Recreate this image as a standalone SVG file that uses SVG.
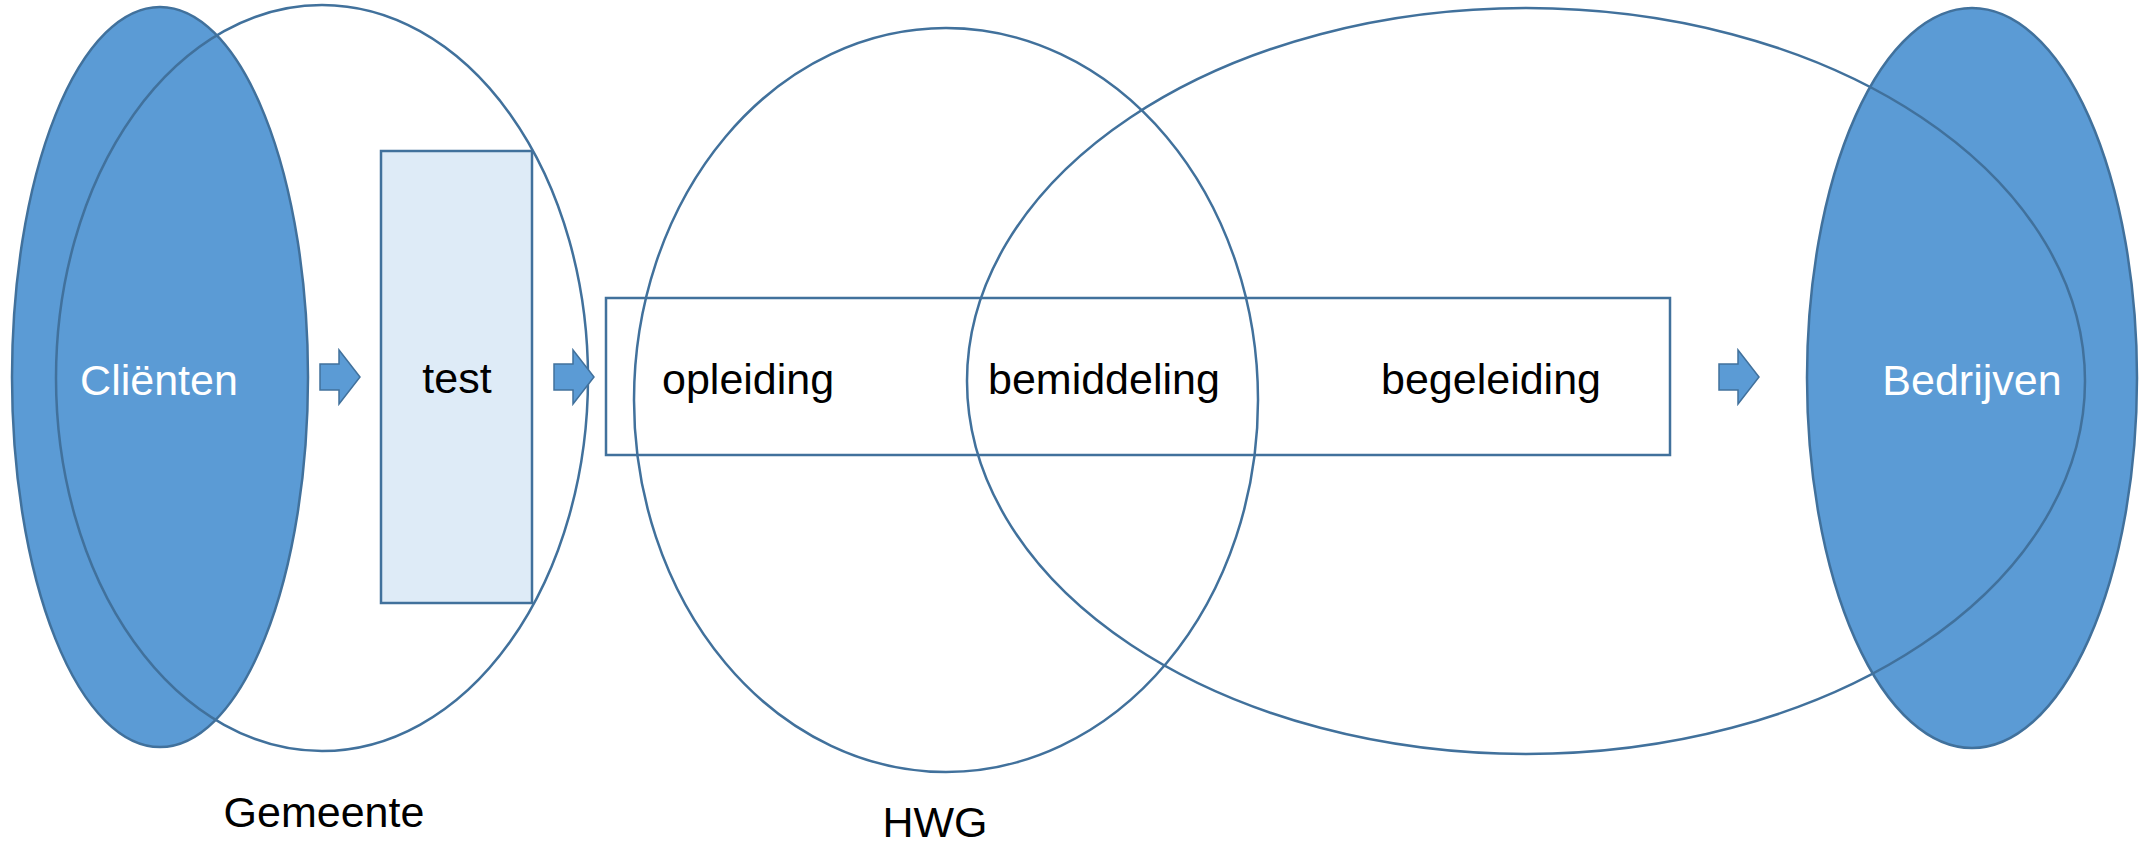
<svg xmlns="http://www.w3.org/2000/svg" xmlns:xlink="http://www.w3.org/1999/xlink" width="2139" height="844" viewBox="0 0 2139 844">
<style>
.filled{fill:#5B9BD5;stroke:#41719C;stroke-width:2.5}
.outline{fill:none;stroke:#41719C;stroke-width:2.5}
.box{fill:#DEEBF7;stroke:#41719C;stroke-width:2.5}
.lbl{font-family:"Liberation Sans",Arial,sans-serif;font-size:43px;fill:#000}
.wlbl{font-family:"Liberation Sans",Arial,sans-serif;font-size:43px;fill:#FFFFFF}
.arrow{fill:#5B9BD5;stroke:#41719C;stroke-width:1.5}
</style>
<defs>
<polygon id="arr" class="arrow" points="0,-13 19,-13 19,-27 40,0 19,27 19,13 0,13"/>
</defs>
<rect width="2139" height="844" fill="#FFFFFF"/>
<g id="clienten">
<ellipse class="filled" cx="160" cy="377" rx="148" ry="370"/>
</g>
<g id="bedrijven">
<ellipse class="filled" cx="1972" cy="378" rx="165" ry="370"/>
</g>
<g id="gemeente">
<ellipse class="outline" cx="322" cy="378" rx="266" ry="373"/>
<text class="lbl" x="324" y="827" text-anchor="middle">Gemeente</text>
</g>
<g id="test">
<rect class="box" x="381" y="151" width="151" height="452"/>
<text class="lbl" x="457" y="393" text-anchor="middle">test</text>
</g>
<g id="hwg">
<ellipse class="outline" cx="946" cy="400" rx="312" ry="372"/>
<text class="lbl" x="935" y="837" text-anchor="middle">HWG</text>
</g>
<g id="werkgevers">
<ellipse class="outline" cx="1526" cy="381" rx="559" ry="373"/>
</g>
<g id="traject">
<rect class="outline" x="606" y="298" width="1064" height="157"/>
<text class="lbl" x="662" y="394">opleiding</text>
<text class="lbl" x="988" y="394">bemiddeling</text>
<text class="lbl" x="1381" y="394">begeleiding</text>
</g>
<g id="clienten-label">
<text class="wlbl" x="159" y="395" text-anchor="middle">Cliënten</text>
</g>
<g id="bedrijven-label">
<text class="wlbl" x="1972" y="395" text-anchor="middle">Bedrijven</text>
</g>
<g id="connectors">
<use xlink:href="#arr" x="320" y="377"/>
<use xlink:href="#arr" x="554" y="377"/>
<use xlink:href="#arr" x="1719" y="377"/>
</g>
</svg>
